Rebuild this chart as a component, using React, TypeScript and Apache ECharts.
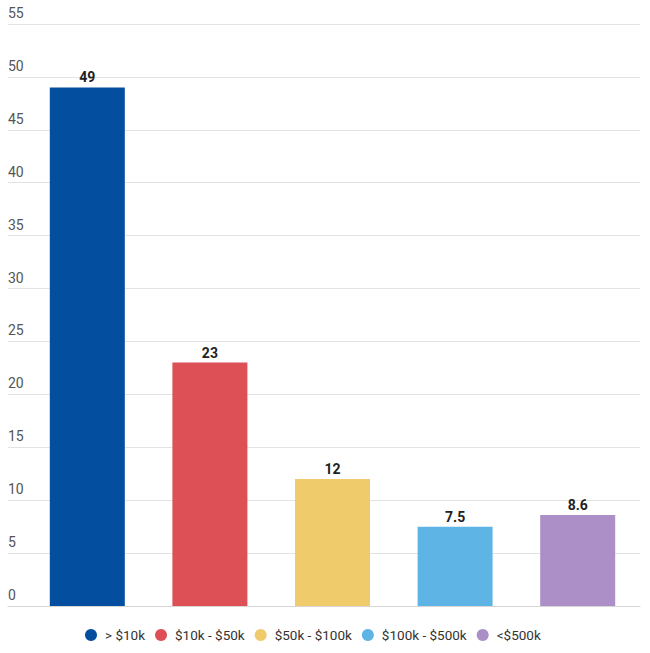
import React, { useEffect, useRef } from "react";
import * as echarts from "echarts";

const categories = ["> $10k", "$10k - $50k", "$50k - $100k", "$100k - $500k", "<$500k"];
const values = [49, 23, 12, 7.5, 8.6];
const colors = ["#034E9E", "#DC5056", "#F0CB6B", "#5EB4E4", "#AB8FC6"];
const yTicks = [0, 5, 10, 15, 20, 25, 30, 35, 40, 45, 50, 55];

export default function App() {
  const ref = useRef<HTMLDivElement>(null);
  useEffect(() => {
    if (!ref.current) return;
    const chart = echarts.init(ref.current, null, { renderer: "svg" });
    const font = "Roboto, 'Noto Sans', sans-serif";
    const series = categories.map((name, i) => ({
      name,
      type: "bar",
      stack: "all",
      xAxisIndex: 0,
      yAxisIndex: 0,
      barWidth: 75,
      itemStyle: { color: colors[i] },
      label: {
        show: true,
        position: "top",
        distance: 3,
        color: "#222",
        fontWeight: "bold",
        fontSize: 14,
        fontFamily: font,
      },
      data: categories.map((_, j) => (j === i ? values[i] : "-")),
    }));
    chart.setOption({
      animation: false,
      textStyle: { fontFamily: font },
      legend: {
        bottom: 6,
        left: 80,
        icon: "circle",
        itemWidth: 12,
        itemHeight: 12,
        itemGap: 10,
        textStyle: { color: "#333", fontSize: 13.5, fontFamily: font, padding: [0, 0, 0, 3] },
        data: categories,
      },
      grid: [
        { left: 26, right: 11, top: 24, bottom: 47 },
        { left: 8, right: 10, top: 24, bottom: 47 },
      ],
      xAxis: [
        {
          type: "category",
          gridIndex: 0,
          data: categories,
          axisLine: { show: false },
          axisTick: { show: false },
          axisLabel: { show: false },
        },
        {
          type: "category",
          gridIndex: 1,
          data: categories,
          axisLine: { show: true, lineStyle: { color: "#d6d6d6" } },
          axisTick: { show: false },
          axisLabel: { show: false },
        },
      ],
      yAxis: [
        {
          type: "value",
          gridIndex: 0,
          min: yTicks[0],
          max: yTicks[yTicks.length - 1],
          interval: 5,
          show: false,
          splitLine: { show: false },
        },
        {
          type: "value",
          gridIndex: 1,
          min: yTicks[0],
          max: yTicks[yTicks.length - 1],
          interval: 5,
          axisLine: { show: false },
          axisTick: { show: false },
          splitLine: { show: true, lineStyle: { color: "#e3e3e3" } },
          axisLabel: {
            inside: true,
            margin: 0,
            align: "left",
            verticalAlign: "bottom",
            color: "#555",
            fontSize: 14,
            fontFamily: font,
            padding: [0, 0, 4, 0],
          },
        },
      ],
      series,
    });
    return () => chart.dispose();
  }, []);
  return (
    <div
      ref={ref}
      style={{ position: "absolute", left: 0, top: 0, width: 650, height: 653 }}
    />
  );
}
